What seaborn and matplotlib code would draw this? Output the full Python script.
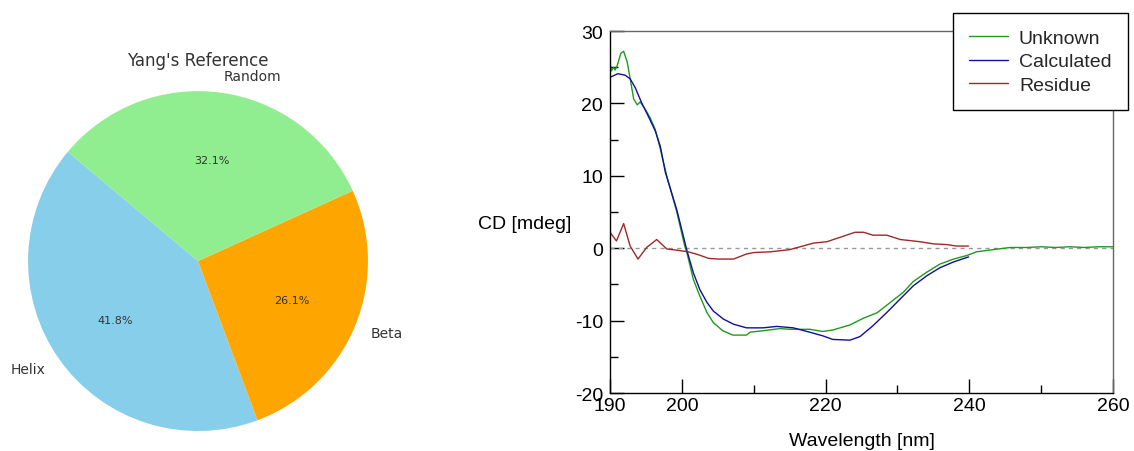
import numpy as np
import matplotlib
matplotlib.use('Agg')
import matplotlib.pyplot as plt
import seaborn as sns
from matplotlib.ticker import FixedLocator, MultipleLocator

# ---- pie data
sizes = [41.8, 26.1, 32.1]
labels = ["Helix", "Beta", "Random"]
pie_colors = ["skyblue", "orange", "lightgreen"]

# ---- CD spectra
unk_wl = [190, 190.2, 190.5, 190.7, 191.0, 191.5, 191.9, 192.4, 192.9, 193.3,
          193.8, 194.2, 194.9, 195.6, 196.3, 197.0, 197.9, 199.3, 200.4, 200.7,
          201.6, 202.5, 203.5, 204.4, 205.7, 207.1, 209.0, 209.5, 211.3, 213.7,
          215.0, 216.2, 217.8, 219.6, 221.0, 223.4, 225.2, 227.2, 229.0, 230.8,
          232.2, 234.1, 235.9, 237.8, 239.7, 241.0, 243.3, 245.7, 248, 250,
          252, 254, 256, 258, 260]
unk_cd = [25.7, 24.5, 25.0, 24.6, 25.2, 26.9, 27.2, 25.7, 22.9, 20.6,
          19.8, 20.2, 19.2, 18.0, 16.4, 13.7, 10.0, 5.0, 0.3, -0.6,
          -4.3, -6.6, -8.9, -10.3, -11.4, -12.0, -12.0, -11.6, -11.4, -11.1,
          -11.2, -11.2, -11.2, -11.5, -11.3, -10.6, -9.7, -8.9, -7.5, -6.1,
          -4.6, -3.3, -2.2, -1.5, -1.0, -0.5, -0.2, 0.1, 0.1, 0.2,
          0.1, 0.2, 0.1, 0.2, 0.2]

calc_wl = [190, 191.1, 192.1, 192.8, 193.5, 194.4, 195.3, 196.3, 197.0, 197.7,
           199.3, 200.7, 201.6, 202.5, 203.5, 204.4, 205.8, 207.2, 209.0, 211.3,
           213.2, 215.5, 217.8, 219.6, 221.0, 223.4, 224.8, 226.6, 228.5, 230.4,
           232.2, 234.1, 235.9, 237.8, 239.9]
calc_cd = [23.6, 24.1, 23.9, 23.4, 22.2, 20.1, 18.3, 16.2, 14.1, 10.5,
           5.3, -0.3, -3.4, -5.7, -7.5, -8.7, -9.8, -10.5, -11.0, -11.0,
           -10.8, -11.0, -11.6, -12.1, -12.6, -12.7, -12.2, -10.7, -8.9, -7.0,
           -5.2, -3.8, -2.7, -1.9, -1.2]

res_wl = [190, 190.9, 191.9, 192.8, 193.9, 195.1, 196.5, 197.9, 199.5, 200.9,
          202.3, 203.7, 205.1, 207.2, 209.0, 210.0, 212.3, 215.0, 218.3, 220.2,
          222.0, 224.1, 225.3, 226.6, 228.5, 230.4, 233.1, 235.0, 236.9, 238.2,
          239.9]
res_cd = [2.2, 1.0, 3.4, 0.3, -1.5, 0.1, 1.2, -0.1, -0.3, -0.5,
          -0.9, -1.4, -1.5, -1.5, -0.8, -0.6, -0.5, -0.2, 0.7, 0.9,
          1.5, 2.2, 2.2, 1.8, 1.8, 1.2, 0.9, 0.6, 0.5, 0.3,
          0.3]

sns.set_theme(style="white")
plt.rcParams['axes.unicode_minus'] = False

fig = plt.figure(figsize=(11.34, 4.52), dpi=100)

# ---- left: pie
ax1 = fig.add_axes([0.0247, 0.0442, 0.2998, 0.752])
ax1.pie(sizes, labels=labels, colors=pie_colors, autopct='%.1f%%', startangle=140,
        radius=1.25, wedgeprops={'linewidth': 0},
        textprops={'fontsize': 10, 'color': '#333333'})
for t in ax1.texts:
    if t.get_text().endswith('%'):
        t.set_fontsize(8)
ax1.set_aspect('equal')
ax1.set_title("Yang's Reference", fontsize=12, color='#333333', pad=19)

# ---- right: CD spectra
fnt = 'Liberation Sans'
ax2 = fig.add_axes([0.5379, 0.1283, 0.4436, 0.8009])
ax2.axhline(0, color='#999999', lw=1, ls=(0, (3, 3)), zorder=1)
sns.lineplot(x=unk_wl, y=unk_cd, ax=ax2, color='#1f9a1f', lw=1, label='Unknown')
sns.lineplot(x=calc_wl, y=calc_cd, ax=ax2, color='#10109a', lw=1, label='Calculated')
sns.lineplot(x=res_wl, y=res_cd, ax=ax2, color='#a02828', lw=1, label='Residue')

ax2.set_xlim(190, 260)
ax2.set_ylim(-20, 30)
ax2.xaxis.set_major_locator(FixedLocator([190, 200, 220, 240, 260]))
ax2.xaxis.set_minor_locator(FixedLocator([210, 230, 250]))
ax2.yaxis.set_major_locator(MultipleLocator(10))
ax2.yaxis.set_minor_locator(MultipleLocator(5))
ax2.tick_params(which='both', direction='in', color='black', labelsize=14,
                labelcolor='black', left=True, bottom=True)
ax2.tick_params(which='major', length=10, width=1)
ax2.tick_params(which='minor', length=6, width=1)
ax2.tick_params(axis='y', pad=5)
ax2.tick_params(axis='x', pad=3)
for lab in ax2.get_xticklabels() + ax2.get_yticklabels():
    lab.set_fontfamily(fnt)

for side in ['left', 'bottom']:
    ax2.spines[side].set_color('black')
    ax2.spines[side].set_linewidth(1)
for side in ['top', 'right']:
    ax2.spines[side].set_color('#666666')
    ax2.spines[side].set_linewidth(1)

ax2.set_xlabel('Wavelength [nm]', fontsize=14, fontfamily=fnt, color='black')
ax2.xaxis.set_label_coords(0.5, -0.13)
ax2.xaxis.label.set_va('center')
ax2.set_ylabel('CD [mdeg]', fontsize=14, fontfamily=fnt, color='black', rotation=0)
ax2.yaxis.set_label_coords(-0.169, 0.467)
ax2.yaxis.label.set_va('center')
ax2.yaxis.label.set_ha('center')

leg = ax2.legend(loc='upper right', bbox_to_anchor=(1.03, 1.05), frameon=True,
                 fancybox=False, framealpha=1, edgecolor='black',
                 prop={'family': fnt, 'size': 14}, handlelength=2.0,
                 handletextpad=0.55, labelspacing=0.3, borderpad=0.85,
                 borderaxespad=0)
leg.get_frame().set_linewidth(1)
leg.set_zorder(5)

fig.savefig('out.png', dpi=100)
